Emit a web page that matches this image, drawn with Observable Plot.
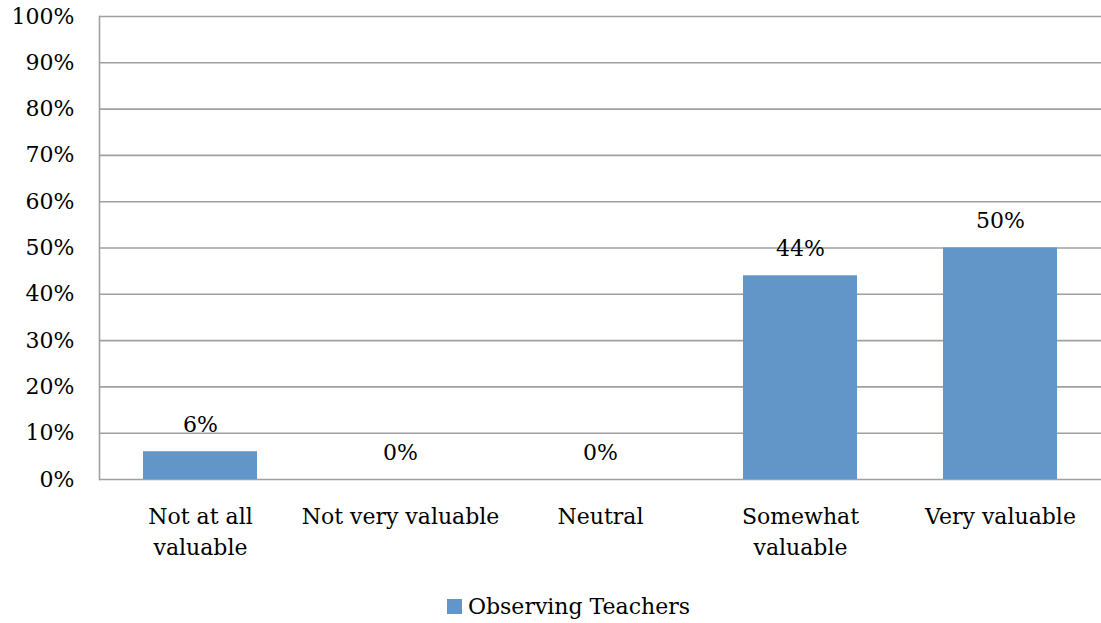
<!DOCTYPE html>
<html>
<head>
<meta charset="utf-8">
<script src="https://cdn.jsdelivr.net/npm/d3@7"></script>
<script src="https://cdn.jsdelivr.net/npm/@observablehq/plot@0.6"></script>
<style>
  html, body { margin: 0; padding: 0; background: #fff; }
  body { width: 1101px; height: 623px; overflow: hidden; font-family: "DejaVu Serif", serif; }
  #legend { height: 62px; display: flex; align-items: center; justify-content: center; font-size: 22px; color: #000; }
  #legend .sw { width: 15px; height: 15px; background: #6396C8; margin-right: 6px; margin-left: 36px; }
</style>
</head>
<body>
<div id="chart"></div>
<div id="legend"><span class="sw"></span><span>Observing Teachers</span></div>
<script>
const categories = ["Not at all valuable", "Not very valuable", "Neutral", "Somewhat valuable", "Very valuable"];
const tickLabels = ["Not at all\nvaluable", "Not very valuable", "Neutral", "Somewhat\nvaluable", "Very valuable"];
const values = [0.06, 0, 0, 0.44, 0.50];
const seriesName = "Observing Teachers";

const data = categories.map((c, i) => ({category: c, value: values[i]}));
const labelOf = new Map(categories.map((c, i) => [c, tickLabels[i]]));

const chart = Plot.plot({
  width: 1101,
  height: 575,
  marginLeft: 99,
  marginRight: 0,
  marginTop: 16,
  marginBottom: 96,
  style: {fontFamily: "DejaVu Serif", fontSize: "22px", color: "#000", background: "#fff"},
  x: {domain: categories, paddingInner: 0.43, paddingOuter: 0.215, label: null},
  y: {domain: [0, 1], label: null},
  marks: [
    Plot.gridY(d3.range(0, 1.0001, 0.1), {stroke: "#a0a0a0", strokeOpacity: 1, strokeWidth: 1.6}),
    Plot.frame({anchor: "left", stroke: "#a0a0a0", strokeWidth: 1.6}),
    Plot.barY(data, {x: "category", y: "value", fill: "#6396C8"}),
    Plot.text(data, {x: "category", y: "value", text: d => Math.round(d.value * 100) + "%", dy: -27, fontSize: 22, fill: "#000"}),
    Plot.axisY(d3.range(0, 1.0001, 0.1), {tickSize: 0, tickPadding: 25, tickFormat: d => Math.round(d * 100) + "%", fontSize: 22, label: null}),
    Plot.axisX({tickSize: 0, tickPadding: 22, tickFormat: d => labelOf.get(d), fontSize: 22, lineHeight: 1.41, label: null})
  ]
});
document.getElementById("chart").appendChild(chart);
document.querySelector("#legend span:last-child").textContent = seriesName;
</script>
</body>
</html>
